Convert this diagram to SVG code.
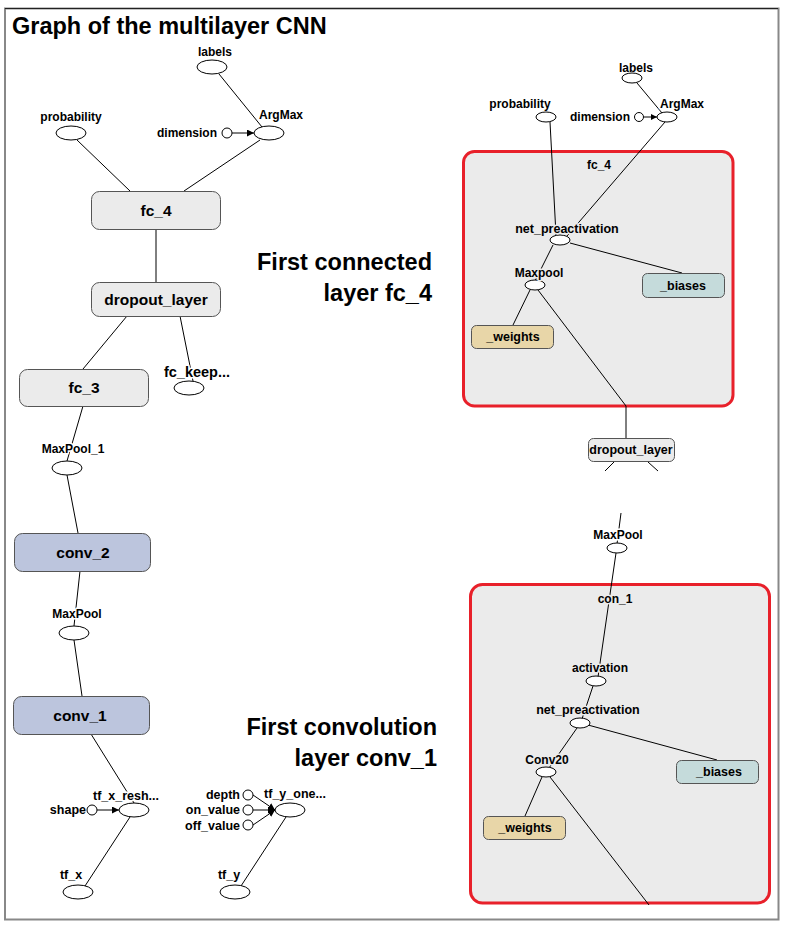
<svg xmlns="http://www.w3.org/2000/svg" width="788" height="925" viewBox="0 0 788 925">
<defs>
<style>
text{font-family:"Liberation Sans",Arial,sans-serif;font-weight:bold;fill:#000}
.t{font-size:23.5px}
.bl{font-size:15.5px;text-anchor:middle}
.bs{font-size:12.5px;text-anchor:middle}
.s{font-size:12px;text-anchor:middle}
.s2{font-size:12.5px}
.e{text-anchor:end}
.hw{stroke:#fff;stroke-width:3;paint-order:stroke;stroke-linejoin:round}
.hg{stroke:#ebebeb;stroke-width:3;paint-order:stroke;stroke-linejoin:round}
.box{fill:#ebebeb;stroke:#555;stroke-width:1}
.conv{fill:#bcc5dd;stroke:#555;stroke-width:1}
.wt{fill:#e8d6a8;stroke:#555;stroke-width:1}
.bi{fill:#c5dbdb;stroke:#555;stroke-width:1}
.ell{fill:#fff;stroke:#000;stroke-width:1}
.frame{fill:#ebebeb;stroke:#e8202a;stroke-width:3}
#edges line,#edges polyline{stroke:#000;stroke-width:1;fill:none}
</style>
<marker id="ah" viewBox="0 0 10 10" refX="10" refY="5" markerWidth="7" markerHeight="7" orient="auto" markerUnits="userSpaceOnUse"><path d="M0,0L10,5L0,10z" fill="#000"/></marker>
<marker id="ahs" viewBox="0 0 10 10" refX="10" refY="5" markerWidth="6" markerHeight="6" orient="auto" markerUnits="userSpaceOnUse"><path d="M0,0L10,5L0,10z" fill="#000"/></marker>
</defs>
<rect x="0" y="0" width="788" height="925" fill="#fff"/>
<rect id="outer" x="5" y="8.5" width="773.5" height="911" fill="none" stroke="#888" stroke-width="2"/>
<line x1="5" y1="8.5" x2="778" y2="8.5" stroke="#222" stroke-width="1"/>
<text class="t" x="12" y="34">Graph of the multilayer CNN</text>
<text class="t e" x="432" y="270">First connected</text>
<text class="t e" x="432" y="301">layer fc_4</text>
<text class="t e" x="437" y="735">First convolution</text>
<text class="t e" x="437" y="766">layer conv_1</text>

<g id="frame_fc4"><rect class="frame" x="463.5" y="151.5" width="269.5" height="254.5" rx="11"/></g>
<g id="frame_con1"><rect class="frame" x="470.5" y="584.5" width="299" height="318.5" rx="12"/></g>

<g id="edges">
<line x1="219" y1="74" x2="262" y2="127"/>
<line x1="232" y1="133" x2="254" y2="133" marker-end="url(#ah)"/>
<line x1="77" y1="140" x2="130" y2="191"/>
<line x1="260" y1="140" x2="184" y2="191"/>
<line x1="156" y1="229" x2="156" y2="282"/>
<line x1="127" y1="316" x2="83" y2="369"/>
<line x1="180" y1="316" x2="193" y2="381"/>
<line x1="83" y1="406" x2="67" y2="461"/>
<line x1="67" y1="475" x2="78" y2="533"/>
<line x1="80" y1="571" x2="74" y2="626"/>
<line x1="74" y1="640" x2="82" y2="696"/>
<line x1="91" y1="734" x2="134" y2="803"/>
<line x1="97" y1="810" x2="119" y2="810" marker-end="url(#ah)"/>
<line x1="130" y1="817" x2="85" y2="886"/>
<line x1="253" y1="795" x2="275" y2="810" marker-end="url(#ah)"/>
<line x1="253" y1="810" x2="275" y2="810" marker-end="url(#ah)"/>
<line x1="253" y1="825" x2="275" y2="810" marker-end="url(#ah)"/>
<line x1="286" y1="817" x2="241" y2="886"/>
<line x1="637" y1="83" x2="662" y2="113"/>
<line x1="644" y1="117" x2="657" y2="117" marker-end="url(#ahs)"/>
<line x1="550" y1="122" x2="556" y2="235"/>
<line x1="665" y1="122" x2="567" y2="236"/>
<line x1="570" y1="243" x2="682" y2="273"/>
<line x1="553" y1="245" x2="535" y2="281"/>
<line x1="530" y1="290" x2="513" y2="325"/>
<polyline points="538,290 626,406 626,438"/>
<line x1="614" y1="462" x2="605" y2="471"/>
<line x1="648" y1="462" x2="658" y2="471"/>
<line x1="621" y1="513" x2="617" y2="544"/>
<line x1="616" y1="553" x2="598" y2="677"/>
<line x1="593" y1="686" x2="582" y2="719"/>
<line x1="577" y1="728" x2="549" y2="768"/>
<line x1="588" y1="725" x2="717" y2="760"/>
<line x1="542" y1="777" x2="525" y2="816"/>
<line x1="550" y1="777" x2="649" y2="905"/>
</g>

<g id="labels_l"><ellipse class="ell" cx="212" cy="67" rx="15" ry="7"/><text class="s hw" x="215" y="56">labels</text></g>
<g id="probability_l"><ellipse class="ell" cx="71" cy="133" rx="15" ry="7"/><text class="s hw" x="71" y="121">probability</text></g>
<g id="dimension_l"><circle class="ell" cx="227" cy="133" r="5"/><text class="s e" x="217" y="137">dimension</text></g>
<g id="argmax_l"><ellipse class="ell" cx="269" cy="133" rx="15" ry="7"/><text class="s hw" x="281" y="119">ArgMax</text></g>
<g id="fc_4"><rect class="box" x="91.5" y="191.5" width="129" height="38" rx="8"/><text class="bl" x="156" y="215.5">fc_4</text></g>
<g id="dropout_layer"><rect class="box" x="91.5" y="282.5" width="129" height="34" rx="8"/><text class="bl" x="156" y="304.5">dropout_layer</text></g>
<g id="fc_3"><rect class="box" x="19.5" y="369.5" width="129" height="37" rx="8"/><text class="bl" x="84" y="393">fc_3</text></g>
<g id="fc_keep"><ellipse class="ell" cx="189" cy="388" rx="15" ry="7"/><text class="bl hw" x="197" y="377" style="font-size:14.5px">fc_keep...</text></g>
<g id="maxpool_1"><ellipse class="ell" cx="67" cy="468" rx="15" ry="7"/><text class="s hw" x="73" y="453">MaxPool_1</text></g>
<g id="conv_2"><rect class="conv" x="14.5" y="533.5" width="136" height="38" rx="8"/><text class="bl" x="83" y="557.5">conv_2</text></g>
<g id="maxpool"><ellipse class="ell" cx="74" cy="633" rx="15" ry="7"/><text class="s hw" x="77" y="618">MaxPool</text></g>
<g id="conv_1"><rect class="conv" x="13.5" y="696.5" width="136" height="38" rx="8"/><text class="bl" x="80" y="720.5">conv_1</text></g>
<g id="tf_x_resh"><ellipse class="ell" cx="134" cy="810" rx="15" ry="7"/><text class="s s2 hw" x="126" y="800">tf_x_resh...</text></g>
<g id="shape"><circle class="ell" cx="92" cy="810" r="5"/><text class="s s2 e" x="86" y="814">shape</text></g>
<g id="tf_x"><ellipse class="ell" cx="78" cy="892" rx="15" ry="7"/><text class="s s2 hw" x="71" y="879">tf_x</text></g>
<g id="depth"><circle class="ell" cx="248" cy="795" r="5"/><text class="s s2 e" x="240" y="799">depth</text></g>
<g id="on_value"><circle class="ell" cx="248" cy="810" r="5"/><text class="s s2 e" x="240" y="814">on_value</text></g>
<g id="off_value"><circle class="ell" cx="248" cy="825" r="5"/><text class="s s2 e" x="240" y="830">off_value</text></g>
<g id="tf_y_one"><ellipse class="ell" cx="290" cy="810" rx="15" ry="7"/><text class="s s2 hw" x="295" y="798">tf_y_one...</text></g>
<g id="tf_y"><ellipse class="ell" cx="235" cy="892" rx="15" ry="7"/><text class="s s2 hw" x="229" y="879">tf_y</text></g>

<g id="labels_r"><ellipse class="ell" cx="632" cy="78" rx="10" ry="5"/><text class="s" x="636" y="72">labels</text></g>
<g id="probability_r"><ellipse class="ell" cx="546" cy="117" rx="10" ry="5"/><text class="s" x="520" y="108">probability</text></g>
<g id="dimension_r"><circle class="ell" cx="639" cy="117" r="4.5"/><text class="s e" x="630" y="121">dimension</text></g>
<g id="argmax_r"><ellipse class="ell" cx="667" cy="117" rx="10" ry="5"/><text class="s hw" x="682" y="108">ArgMax</text></g>
<text class="s" x="599" y="169">fc_4</text>
<g id="net_preact_fc4"><ellipse class="ell" cx="560" cy="240" rx="10" ry="5"/><text class="s s2 hg" x="567" y="233">net_preactivation</text></g>
<g id="maxpool_fc4"><ellipse class="ell" cx="535" cy="285" rx="10" ry="5"/><text class="s hg" x="539" y="277">Maxpool</text></g>
<g id="weights_fc4"><rect class="wt" x="471.5" y="325.5" width="82" height="23" rx="5"/><text class="bs" x="513" y="341">_weights</text></g>
<g id="biases_fc4"><rect class="bi" x="642.5" y="273.5" width="82" height="24" rx="5"/><text class="bs" x="683" y="289.5">_biases</text></g>
<g id="dropout_r"><rect class="box" x="588.5" y="438.5" width="86" height="23" rx="5"/><text class="bs" x="631" y="454">dropout_layer</text></g>
<g id="maxpool_r"><ellipse class="ell" cx="617" cy="548" rx="10" ry="5"/><text class="s hw" x="618" y="539">MaxPool</text></g>
<text class="s hg" x="615" y="603">con_1</text>
<g id="activation"><ellipse class="ell" cx="596" cy="681" rx="10" ry="5"/><text class="s hg" x="600" y="672">activation</text></g>
<g id="net_preact_c1"><ellipse class="ell" cx="580" cy="723" rx="10" ry="5"/><text class="s s2 hg" x="588" y="714">net_preactivation</text></g>
<g id="conv20"><ellipse class="ell" cx="546" cy="772" rx="10" ry="5"/><text class="s hg" x="547" y="764">Conv20</text></g>
<g id="biases_c1"><rect class="bi" x="676.5" y="760.5" width="82" height="23" rx="5"/><text class="bs" x="719" y="776">_biases</text></g>
<g id="weights_c1"><rect class="wt" x="483.5" y="816.5" width="82" height="23" rx="5"/><text class="bs" x="525" y="832">_weights</text></g>
</svg>
